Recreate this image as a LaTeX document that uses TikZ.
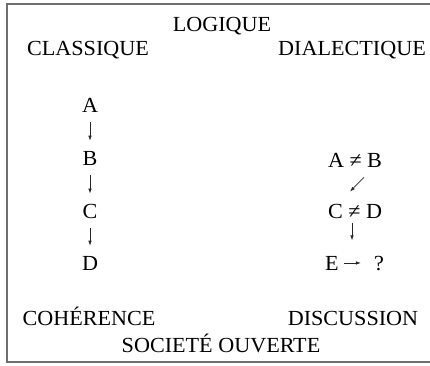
\documentclass[tikz,border=0pt]{standalone}
\usepackage{fontspec}
\setmainfont{Liberation Serif}[FakeStretch=1.03]
\usepackage{tikz}
\usetikzlibrary{
  arrows.meta,
  positioning,
  calc,
}
\definecolor{frameGray}{HTML}{6E6E6E}
\tikzset{
  word/.style={
    inner sep=0pt, anchor=base, text=black,
    font=\fontsize{21.5}{25}\selectfont,
  },
  arrowSmall/.style={
    -{Latex[length=5pt,width=3.5pt]}, line width=0.7pt, draw=black!85,
  },
  frameLine/.style={
    line width=1.4pt, draw=frameGray,
  },
}

\begin{document}
\begin{tikzpicture}[x=1pt,y=-1pt]
\useasboundingbox (0,0) rectangle (430,365);
\draw[frameLine] (430,4) -- (7,4) -- (7,362) -- (430,362);

% headings
\node[word] (logique) at (222,31) {LOGIQUE};
\node[word] (classique) at (88,55) {CLASSIQUE};
\node[word] (dialectique) at (352,55) {DIALECTIQUE};

% classical chain
\node[word] (a) at (90,112) {A};
\node[word] (b) at (90,165) {B};
\node[word] (c) at (90,218) {C};
\node[word] (d) at (90,270) {D};
\draw[arrowSmall, shorten <=10pt, shorten >=10pt] (a.south) -- (b.north);
\draw[arrowSmall, shorten <=10pt, shorten >=10pt] (b.south) -- (c.north);
\draw[arrowSmall, shorten <=10pt, shorten >=10pt] (c.south) -- (d.north);

% dialectical chain
\node[word] (ab) at (355,167) {A ≠ B};
\node[word] (cd) at (355,218) {C ≠ D};
\node[word] (e) at (332,270) {E};
\node[word] (q) at (379,270) {?};
\draw[arrowSmall]
  ([xshift=9pt,yshift=-10pt]ab.south) -- ([xshift=-5pt,yshift=12pt]cd.north);
\draw[arrowSmall]
  ([xshift=-3pt,yshift=-5pt]cd.south) -- ([xshift=-3pt,yshift=-22pt]cd.south);
\draw[arrowSmall, shorten <=5pt, shorten >=13pt] (e.east) -- (e.east -| q.west);

% outcomes
\node[word] (coherence) at (89,325) {COHÉRENCE};
\node[word] (discussion) at (353,325) {DISCUSSION};
\node[word] (societe) at (221,352) {SOCIETÉ OUVERTE};
\end{tikzpicture}
\end{document}
